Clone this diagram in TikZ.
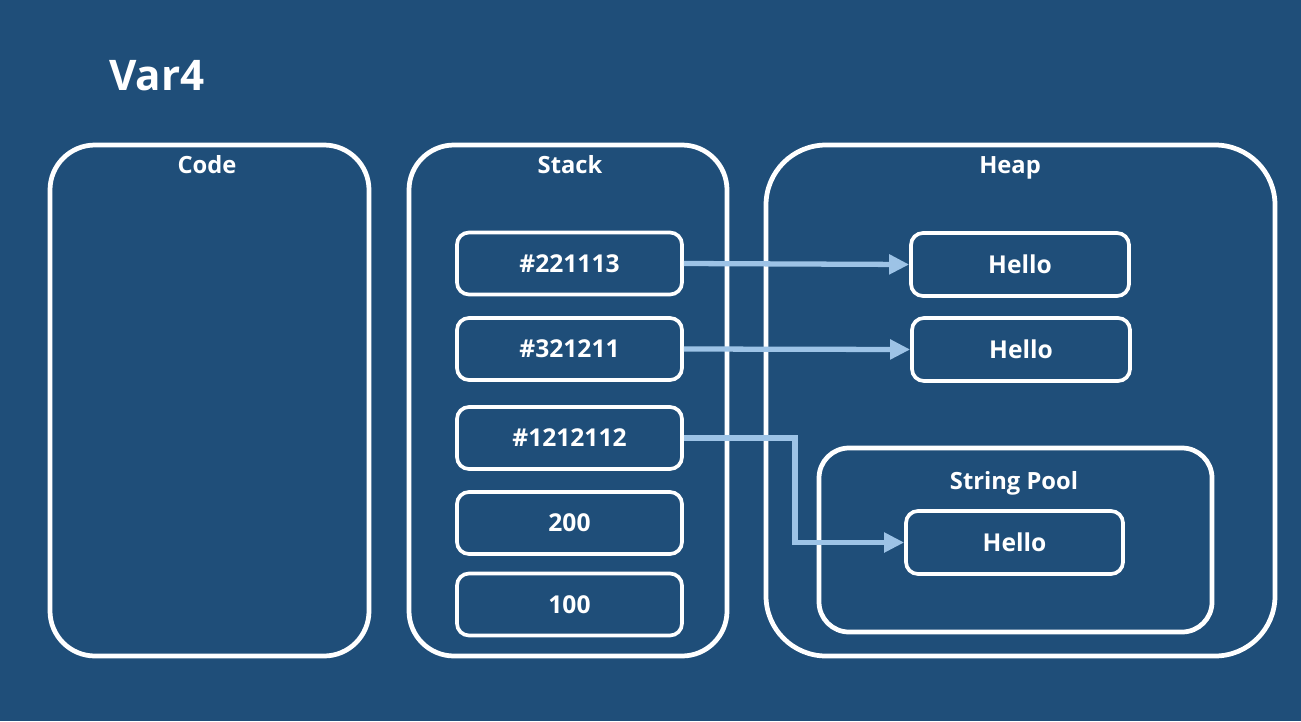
\documentclass[tikz,border=0pt]{standalone}
\usepackage{fontspec}
\setmainfont{Open Sans}
\usetikzlibrary{arrows.meta}
\definecolor{bgblue}{RGB}{31,78,121}
\definecolor{linkblue}{RGB}{157,195,230}
\tikzset{
	area/.style={draw=white, line width=2.7pt, rounded corners=0.9cm},
	cell/.style={draw=white, line width=2.1pt, rounded corners=0.24cm,
		minimum width=4.5cm, minimum height=1.24cm, inner sep=0pt,
		text=white, font=\fontsize{14}{16}\selectfont\bfseries},
	title/.style={anchor=base, text=white, font=\fontsize{13.5}{16}\selectfont\bfseries},
	link/.style={draw=linkblue, line width=3pt,
		-{Triangle[length=0.4cm, width=0.38cm]}}
}

\begin{document}
\begin{tikzpicture}
	\fill[bgblue] (0,0) rectangle (26.02,14.42);
	\useasboundingbox (0,0) rectangle (26.02,14.42);
	\node[anchor=base west, text=white, font=\fontsize{24}{30}\selectfont\bfseries] (name) at (2.06,12.6){Var4};
	% the three areas
	\node[area, minimum width=6.38cm, minimum height=10.22cm] (code) at (4.19,6.41){};
	\node[area, minimum width=6.36cm, minimum height=10.22cm] (stack) at (11.36,6.41){};
	\node[area, rounded corners=1.2cm, minimum width=10.18cm, minimum height=10.22cm] (heap) at (20.41,6.41){};
	\node[title] (codet) at (4.14,10.96){Code};
	\node[title] (stackt) at (11.4,10.96){Stack};
	\node[title] (heapt) at (20.2,10.96){Heap};
	% stack
	\node[cell] (s1) at (11.39,9.15){\#221113};
	\node[cell] (s2) at (11.39,7.44){\#321211};
	\node[cell] (s3) at (11.39,5.66){\#1212112};
	\node[cell] (s4) at (11.39,3.96){200};
	\node[cell] (s5) at (11.39,2.33){100};
	% heap
	\node[cell, minimum width=4.36cm, minimum height=1.26cm] (h1) at (20.4,9.13){Hello};
	\node[cell, minimum width=4.36cm, minimum height=1.26cm] (h2) at (20.42,7.43){Hello};
	\node[area, rounded corners=0.6cm, minimum width=7.86cm, minimum height=3.68cm] (pool) at (20.31,3.62){};
	\node[title] (poolt) at (20.28,4.63){String Pool};
	\node[cell, minimum width=4.34cm, minimum height=1.26cm] (h3) at (20.29,3.57){Hello};
	% references
	\draw[link] (s1.east) -- (h1.west);
	\draw[link] (s2.east) -- (h2.west);
	\draw[link] (s3.east) -| (15.9,3.57) -- (h3.west);
\end{tikzpicture}
\end{document}
